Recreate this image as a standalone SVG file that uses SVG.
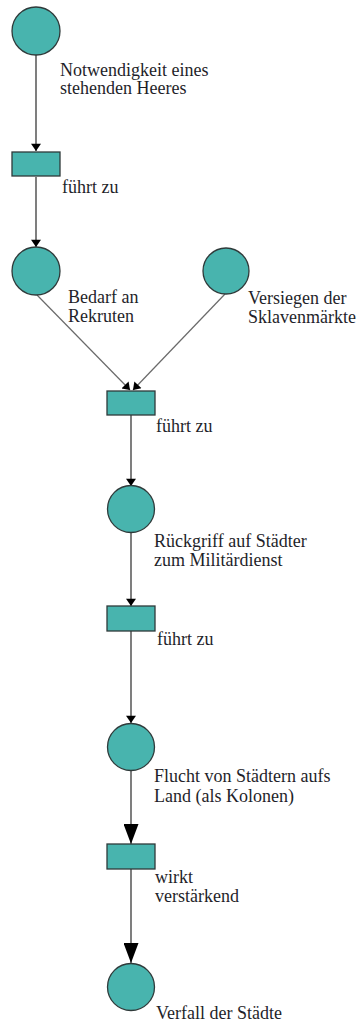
<svg xmlns="http://www.w3.org/2000/svg" width="363" height="1027" viewBox="0 0 363 1027">
<style>
.place{fill:#48b4ae;stroke:#2f3a3a;stroke-width:1.3}
.trans{fill:#48b4ae;stroke:#2f3a3a;stroke-width:1.3}
.arc{stroke:#3a3a3a;stroke-width:1.3;fill:none}
.arcd{stroke:#6a6a6a;stroke-width:1.2;fill:none}
text{font-family:'Liberation Serif','Liberation Sans',sans-serif;font-size:18px;fill:#1f1f2a}
</style>
<defs>
<marker id="ah" markerUnits="userSpaceOnUse" markerWidth="14" markerHeight="10" refX="10" refY="7" orient="auto" viewBox="0 0 10 14">
<path d="M0,0 L10,7 L0,14 Z" fill="#000"/>
</marker>
<marker id="ahL" markerUnits="userSpaceOnUse" markerWidth="20" markerHeight="15" refX="20" refY="7.5" orient="auto" viewBox="0 0 20 15">
<path d="M0,0 L20,7.5 L0,15 Z" fill="#000"/>
</marker>
</defs>
<rect width="363" height="1027" fill="#fff"/>
<g id="connectors">
<line class="arc" x1="36" y1="55" x2="36" y2="151" marker-end="url(#ah)"/>
<line class="arc" x1="36" y1="177" x2="36" y2="247" marker-end="url(#ah)"/>
<line class="arcd" x1="37" y1="295" x2="130" y2="390" marker-end="url(#ah)"/>
<line class="arcd" x1="225" y1="294" x2="133" y2="390" marker-end="url(#ah)"/>
<line class="arc" x1="131" y1="415" x2="131" y2="486" marker-end="url(#ah)"/>
<line class="arc" x1="131" y1="533" x2="131" y2="606" marker-end="url(#ah)"/>
<line class="arc" x1="131" y1="631" x2="131" y2="723" marker-end="url(#ah)"/>
<line class="arc" x1="131" y1="771" x2="131" y2="844" marker-end="url(#ahL)"/>
<line class="arc" x1="131" y1="869" x2="131" y2="963" marker-end="url(#ahL)"/>
</g>
<g id="p1"><circle class="place" cx="36" cy="31" r="24"/>
<text x="60" y="76">Notwendigkeit eines</text>
<text x="60" y="94">stehenden Heeres</text></g>
<g id="t1"><rect class="trans" x="12" y="152" width="48" height="24"/>
<text x="62" y="193">führt zu</text></g>
<g id="p2"><circle class="place" cx="36" cy="271" r="24"/>
<text x="68" y="303">Bedarf an</text>
<text x="68" y="322">Rekruten</text></g>
<g id="p3"><circle class="place" cx="226" cy="271" r="23"/>
<text x="248" y="304">Versiegen der</text>
<text x="248" y="323">Sklavenmärkte</text></g>
<g id="t2"><rect class="trans" x="107" y="391" width="48" height="24"/>
<text x="156" y="432">führt zu</text></g>
<g id="p4"><circle class="place" cx="131" cy="509" r="23.5"/>
<text x="154" y="547">Rückgriff auf Städter</text>
<text x="154" y="566">zum Militärdienst</text></g>
<g id="t3"><rect class="trans" x="107" y="606" width="48" height="25"/>
<text x="157" y="645">führt zu</text></g>
<g id="p5"><circle class="place" cx="131" cy="747" r="23.5"/>
<text x="154" y="782">Flucht von Städtern aufs</text>
<text x="154" y="802">Land (als Kolonen)</text></g>
<g id="t4"><rect class="trans" x="107" y="844" width="48" height="25"/>
<text x="155" y="883">wirkt</text>
<text x="155" y="902">verstärkend</text></g>
<g id="p6"><circle class="place" cx="131" cy="987" r="23.5"/>
<text x="156" y="1019">Verfall der Städte</text></g>
</svg>
